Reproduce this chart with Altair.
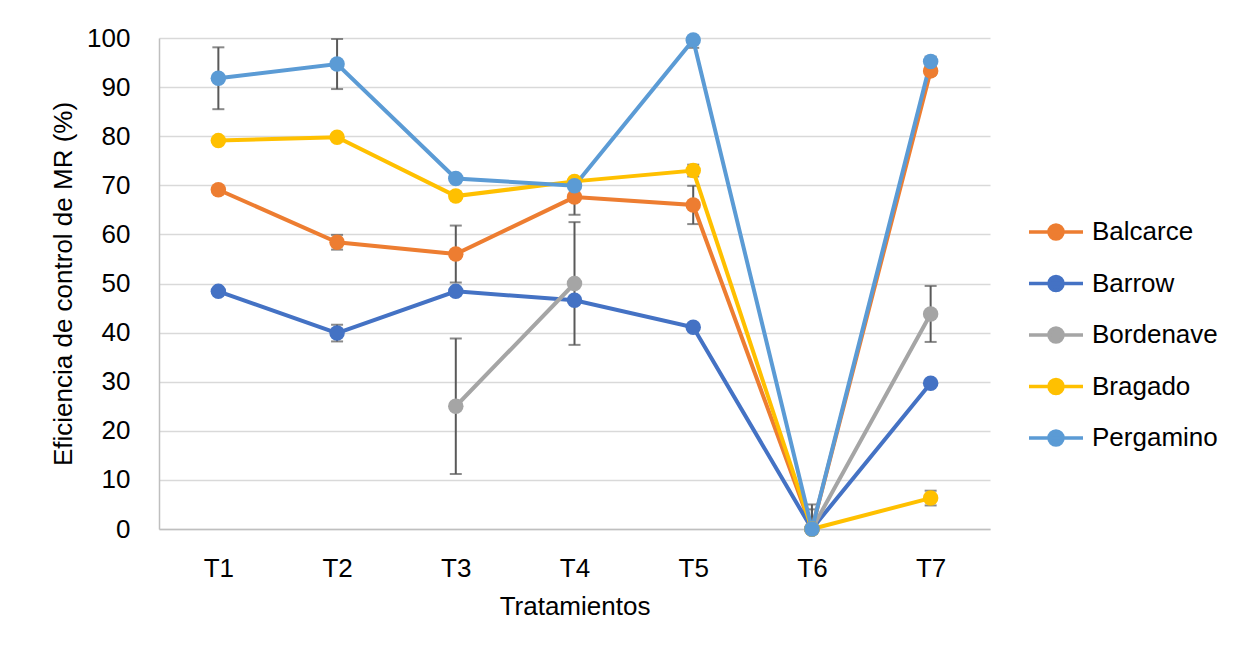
import altair as alt
import pandas as pd

categories = ["T1", "T2", "T3", "T4", "T5", "T6", "T7"]
series = ["Balcarce", "Barrow", "Bordenave", "Bragado", "Pergamino"]
colors = ["#ED7D31", "#4472C4", "#A5A5A5", "#FFC000", "#5B9BD5"]

balcarce = [69.1, 58.4, 56.0, 67.6, 66.0, 0.0, 93.3]
balcarce_err = [0.0, 1.5, 5.8, 3.6, 3.9, 5.0, 0.8]
barrow = [48.4, 39.9, 48.4, 46.6, 41.1, 0.0, 29.7]
barrow_err = [0.0, 1.7, 0.6, 0.0, 0.0, 4.0, 0.5]
bordenave = [None, None, 25.0, 50.0, None, 0.0, 43.8]
bordenave_err = [None, None, 13.8, 12.5, None, 0.5, 5.7]
bragado = [79.1, 79.8, 67.8, 70.8, 73.0, 0.0, 6.3]
bragado_err = [0.0, 0.0, 0.0, 0.0, 1.2, 0.5, 1.5]
pergamino = [91.8, 94.7, 71.4, 69.9, 99.6, 0.0, 95.2]
pergamino_err = [6.3, 5.1, 0.0, 0.0, 1.6, 0.0, 1.0]

y_ticks = [0, 10, 20, 30, 40, 50, 60, 70, 80, 90, 100]

values = [balcarce, barrow, bordenave, bragado, pergamino]
errors = [balcarce_err, barrow_err, bordenave_err, bragado_err, pergamino_err]

rows = []
for s, vals, errs in zip(series, values, errors):
    for c, v, e in zip(categories, vals, errs):
        rows.append({
            "Tratamiento": c,
            "Serie": s,
            "valor": v,
            "lo": None if v is None else v - (e or 0),
            "hi": None if v is None else v + (e or 0),
            "err": e if e is not None else 0.0,
        })
df = pd.DataFrame(rows)

FONT = "Liberation Sans, Arial, sans-serif"
FS = 26

x_enc = alt.X(
    "Tratamiento:N",
    sort=categories,
    scale=alt.Scale(type="point", padding=0.5),
    title="Tratamientos",
    axis=alt.Axis(
        labelAngle=0,
        labelFontSize=FS,
        titleFontSize=FS,
        labelPadding=26,
        titlePadding=12,
        ticks=False,
        grid=False,
        domainColor="#BFBFBF",
        domainWidth=1.5,
        labelColor="#000000",
        titleColor="#000000",
        titleFontWeight="normal",
    ),
)

color_enc = alt.Color(
    "Serie:N",
    sort=series,
    scale=alt.Scale(domain=series, range=colors),
    legend=alt.Legend(
        title=None,
        orient="none",
        legendX=868,
        legendY=165,
        labelFontSize=FS,
        labelColor="#000000",
        symbolType="M-1,0L1,0M0.26,0A0.26,0.26,0,1,1,-0.26,0A0.26,0.26,0,1,1,0.26,0Z",
        symbolSize=2916,
        symbolStrokeWidth=3.5,
        symbolOpacity=1,
        rowPadding=7.5,
        labelOffset=7,
    ),
)

y_axis = alt.Axis(
    values=y_ticks,
    labelFontSize=FS,
    titleFontSize=FS,
    labelPadding=29,
    titlePadding=10,
    ticks=False,
    gridColor="#D9D9D9",
    gridWidth=1.5,
    domainColor="#BFBFBF",
    domainWidth=1.5,
    labelColor="#000000",
    titleColor="#000000",
    titleFontWeight="normal",
)

y_scale = alt.Scale(domain=[0, 100], nice=False)
Y_TITLE = "Eficiencia de control de MR (%)"

base = alt.Chart(df)

errbars = base.transform_filter("datum.err > 0").mark_errorbar(
    ticks=True, size=12, thickness=2, color="#595959", clip=True
).encode(
    x=x_enc,
    y=alt.Y("lo:Q", scale=y_scale, axis=y_axis, title=Y_TITLE),
    y2="hi:Q",
)

lines = base.mark_line(strokeWidth=4, invalid="break-paths-show-domains").encode(
    x=x_enc,
    y=alt.Y("valor:Q", scale=y_scale, axis=y_axis, title=Y_TITLE),
    color=color_enc,
    detail="Serie:N",
)

points = base.transform_filter("datum.valor != null").mark_point(
    filled=True, size=240, opacity=1
).encode(
    x=x_enc,
    y=alt.Y("valor:Q", scale=y_scale, axis=y_axis, title=Y_TITLE),
    color=color_enc,
)

chart = alt.layer(errbars, lines, points).properties(
    width=831,
    height=491,
    padding={"left": 42, "top": 17, "right": 5, "bottom": 5},
).configure(
    font=FONT,
).configure_view(
    stroke=None,
).configure_axis(
    labelFont=FONT,
    titleFont=FONT,
).configure_legend(
    labelFont=FONT,
)

chart.save("out.html", embed_options={"renderer": "svg", "actions": False})
